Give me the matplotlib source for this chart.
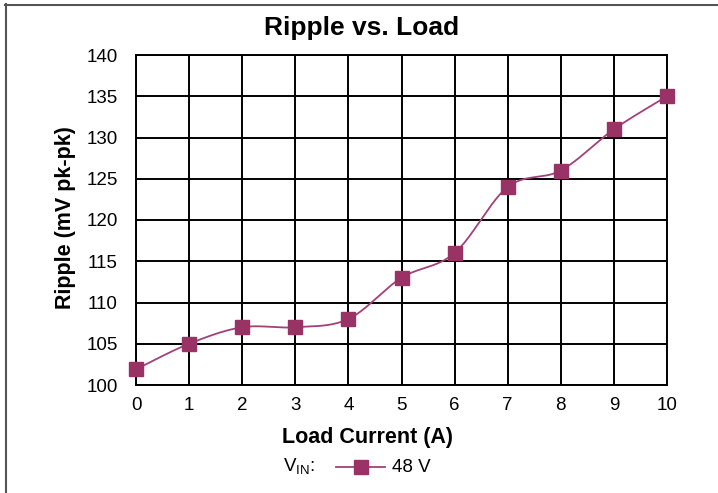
import numpy as np
import matplotlib
matplotlib.use("Agg")
import matplotlib.pyplot as plt
from matplotlib.lines import Line2D

plt.rcParams['font.family'] = ['Liberation Sans', 'DejaVu Sans']
plt.rcParams['mathtext.fontset'] = 'custom'
plt.rcParams['mathtext.rm'] = 'Liberation Sans'

load_current = [0, 1, 2, 3, 4, 5, 6, 7, 8, 9, 10]
ripple = [101.9, 105.0, 107.0, 107.0, 108.0, 113.0, 116.0, 124.0, 126.0, 131.0, 135.0]
series_label = "48 V"
title = "Ripple vs. Load"
xlabel = "Load Current (A)"
ylabel = "Ripple (mV pk-pk)"

color = "#993366"

def smooth(x, y, n=30):
    x = np.asarray(x, float); y = np.asarray(y, float)
    xs, ys = [], []
    for i in range(len(x) - 1):
        p0 = (x[max(i-1, 0)], y[max(i-1, 0)])
        p1 = (x[i], y[i]); p2 = (x[i+1], y[i+1])
        p3 = (x[min(i+2, len(x)-1)], y[min(i+2, len(x)-1)])
        c1 = (p1[0] + (p2[0]-p0[0])/6, p1[1] + (p2[1]-p0[1])/6)
        c2 = (p2[0] - (p3[0]-p1[0])/6, p2[1] - (p3[1]-p1[1])/6)
        t = np.linspace(0, 1, n, endpoint=(i == len(x)-2))
        for a, b in ((0, xs), (1, ys)):
            b.extend((1-t)**3*p1[a] + 3*(1-t)**2*t*c1[a] + 3*(1-t)*t**2*c2[a] + t**3*p2[a])
    return np.array(xs), np.array(ys)

fig = plt.figure(figsize=(7.18, 4.93), dpi=100)
ax = fig.add_axes([136/718, 1-385/493, 531/718, 330/493])

sx, sy = smooth(load_current, ripple)
ax.plot(sx, sy, color="#A3407A", lw=1.3, zorder=3)
ax.plot(load_current, ripple, ls='none', marker='s', ms=10.5, color=color, zorder=4, clip_on=False)

ax.set_xlim(0, 10)
ax.set_ylim(100, 140)
ax.set_xticks(range(0, 11))
ax.set_yticks(range(100, 141, 5))
ax.grid(True, color='black', lw=1.4)
for s in ax.spines.values():
    s.set_linewidth(1.4)
ax.tick_params(length=0, labelsize=13.5)
ax.tick_params(axis='y', pad=13)
ax.tick_params(axis='x', pad=9)
ax.set_xlabel(xlabel, fontsize=15.5, fontweight='bold')
ax.set_ylabel(ylabel, fontsize=15.5, fontweight='bold')
ax.xaxis.set_label_coords(368/718, 1-437/493, transform=fig.transFigure)
ax.xaxis.label.set_va('center')
ax.yaxis.set_label_coords(65/718, 1-218/493, transform=fig.transFigure)
ax.yaxis.label.set_va('center')
fig.text(362/718, 1-28/493, title, ha='center', va='center', fontsize=19, fontweight='bold')

# legend
ly = 1-467/493
fig.text(283/718, ly, r'V$_{\mathrm{IN}}$:', ha='left', va='center', fontsize=13.5)
fig.add_artist(Line2D([336/718, 385/718], [ly]*2, color="#A3407A", lw=1.3))
fig.add_artist(Line2D([361/718], [ly], ls='none', marker='s', ms=10.5, color=color))
fig.text(392/718, ly, series_label, ha='left', va='center', fontsize=13.5)

# outer frame (top and left)
fig.add_artist(Line2D([5/718, 1], [1-4.5/493]*2, color='#555555', lw=1.5))
fig.add_artist(Line2D([5.5/718]*2, [0, 1-4/493], color='#555555', lw=1.5))

fig.savefig("out.png", dpi=100)
